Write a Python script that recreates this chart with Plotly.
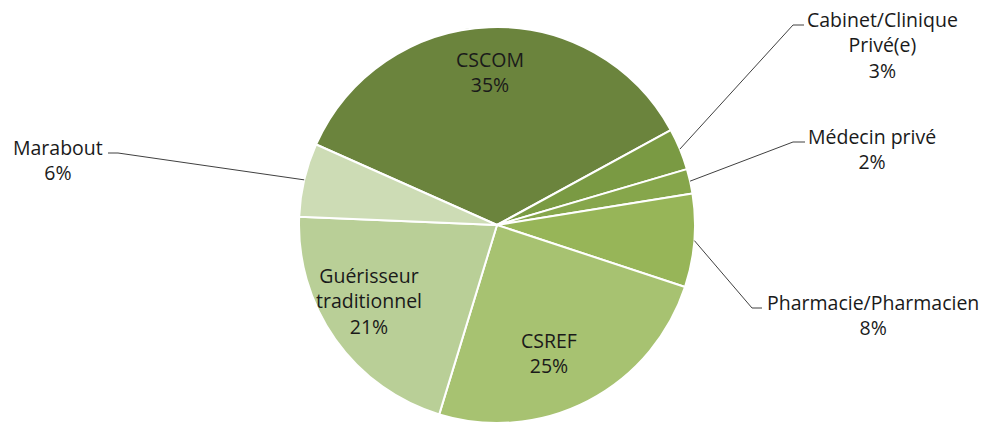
import math
import plotly.graph_objects as go

# ---- data ----
categories = ["CSCOM", "Cabinet/Clinique<br>Privé(e)", "Médecin privé", "Pharmacie/Pharmacien",
              "CSREF", "Guérisseur<br>traditionnel", "Marabout"]
values = [35.3, 3.4, 2.0, 7.6, 24.6, 20.9, 6.0]
colors = ["#6b843d", "#7a9a43", "#86a64b", "#97b558", "#a7c271", "#b9cf97", "#cddcb5"]

# ---- layout constants (pixels) ----
W, H = 984, 423
CX, CY, R = 497, 225, 198
ROTATION = -66  # start angle of first slice, clockwise from 12 o'clock

# label centre positions (px)
label_pos = [(490, 72), (882, 45), (872, 149), (873, 315), (549, 353), (369, 301), (58, 160)]
# leader line: (line start point, tick end point) in px, or None
leaders = [None, ((793, 25), (804, 25)), ((793, 142), (805, 142)), ((752, 308), (762, 308)),
           None, None, ((118, 153), (108, 153))]

FONT = "Open Sans"
FS = 19.5

def px2paper(x, y):
    return x / W, 1 - y / H

total = sum(values)
fig = go.Figure(go.Pie(
    labels=categories,
    values=values,
    sort=False,
    direction="clockwise",
    rotation=ROTATION,
    marker=dict(colors=colors, line=dict(color="white", width=2)),
    textinfo="none",
    hoverinfo="label+percent",
    showlegend=False,
    domain=dict(x=[(CX - R) / W, (CX + R) / W], y=[1 - (CY + R) / H, 1 - (CY - R) / H]),
))

annotations = []
shapes = []
cum = 0.0
for i, (cat, v) in enumerate(zip(categories, values)):
    pct = round(v / total * 100)
    lx, ly = label_pos[i]
    px, py = px2paper(lx, ly)
    annotations.append(dict(
        x=px, y=py, xref="paper", yref="paper", showarrow=False,
        text=f"{cat}<br>{pct}%", align="center",
        font=dict(family=FONT, size=FS, color="#1a1a1a"),
        xanchor="center", yanchor="middle",
    ))
    mid = ROTATION + (cum + v / 2) / total * 360
    cum += v
    if leaders[i] is not None:
        (sx, sy), (tx, ty) = leaders[i]
        a = math.radians(mid)
        ex = CX + R * math.sin(a)
        ey = CY - R * math.cos(a)
        x0, y0 = px2paper(sx, sy)
        x1, y1 = px2paper(ex, ey)
        x2, y2 = px2paper(tx, ty)
        shapes.append(dict(type="line", xref="paper", yref="paper", x0=x0, y0=y0, x1=x1, y1=y1,
                           line=dict(color="#404040", width=1)))
        shapes.append(dict(type="line", xref="paper", yref="paper", x0=x0, y0=y0, x1=x2, y1=y2,
                           line=dict(color="#404040", width=1)))

fig.update_layout(
    width=W, height=H,
    margin=dict(l=0, r=0, t=0, b=0),
    paper_bgcolor="white", plot_bgcolor="white",
    annotations=annotations, shapes=shapes,
    font=dict(family=FONT, size=FS),
)

fig.write_html("out.html", config={"displayModeBar": False},
               post_script="document.body.style.margin='0';")
